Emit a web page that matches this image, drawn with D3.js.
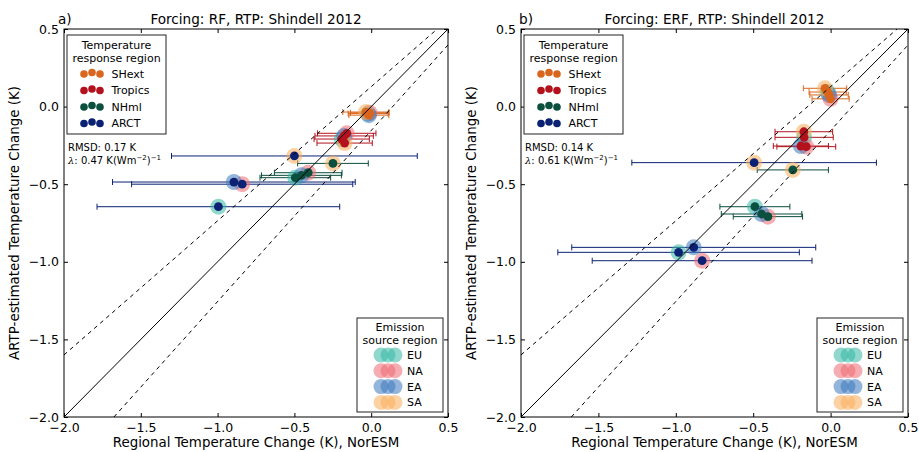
<!DOCTYPE html>
<html>
<head>
<meta charset="utf-8">
<script src="https://cdn.jsdelivr.net/npm/d3@7"></script>
<style>
  body { margin: 0; background: #fff; }
  svg { font-family: "DejaVu Sans", sans-serif; }
</style>
</head>
<body>
<div id="chart"></div>
<script>
// regions the temperature responds in, and where the emissions come from
const regions = ["SHext", "Tropics", "NHml", "ARCT"];
const sources = ["EU", "NA", "EA", "SA"];
const regionColors = ["#d9661c", "#b3121d", "#0b4f3e", "#0b2274"];
const sourceColors = ["#34b8a4", "#ef6a73", "#3a79bd", "#f9ad5a"];

// rows follow regions, columns follow sources
// panel a) Forcing: RF
const rfX = [
  [-0.020, -0.010, -0.015, -0.035],
  [-0.192, -0.159, -0.176, -0.173],
  [-0.494, -0.410, -0.454, -0.249],
  [-0.995, -0.840, -0.894, -0.500]
];
const rfY = [
  [-0.045, -0.040, -0.055, -0.035],
  [-0.209, -0.172, -0.189, -0.235],
  [-0.458, -0.426, -0.443, -0.366],
  [-0.645, -0.500, -0.486, -0.318]
];
const rfErr = [
  [0.13, 0.125, 0.13, 0.15],
  [0.18, 0.19, 0.19, 0.18],
  [0.23, 0.22, 0.26, 0.23],
  [0.79, 0.72, 0.79, 0.80]
];

// panel b) Forcing: ERF
const erfX = [
  [-0.019, 0.000, -0.010, -0.036],
  [-0.171, -0.157, -0.192, -0.173],
  [-0.489, -0.405, -0.446, -0.244],
  [-0.982, -0.830, -0.884, -0.494]
];
const erfY = [
  [0.094, 0.050, 0.075, 0.118],
  [-0.198, -0.258, -0.254, -0.162],
  [-0.645, -0.709, -0.692, -0.408],
  [-0.939, -0.993, -0.907, -0.361]
];
const erfErr = [
  [0.12, 0.12, 0.124, 0.14],
  [0.188, 0.19, 0.178, 0.186],
  [0.226, 0.224, 0.26, 0.23],
  [0.78, 0.71, 0.788, 0.79]
];

const ticks = [-2.0, -1.5, -1.0, -0.5, 0.0, 0.5];
// one-to-one line and the two dashed bounds, as end points in data units
const refLines = [
  { x1: -2.0, y1: -2.0, x2: 0.5, y2: 0.5, dash: null },
  { x1: -2.0, y1: -1.6, x2: 0.43, y2: 0.5, dash: "4,4" },
  { x1: -1.675, y1: -2.0, x2: 0.5, y2: 0.397, dash: "4,4" }
];

const panels = [
  { tag: "a)", title: "Forcing: RF, RTP: Shindell 2012", xs: rfX, ys: rfY, errs: rfErr,
    rmsd: "RMSD: 0.17 K", lambda: "0.47", left: 64, right: 448, tagX: 58 },
  { tag: "b)", title: "Forcing: ERF, RTP: Shindell 2012", xs: erfX, ys: erfY, errs: erfErr,
    rmsd: "RMSD: 0.14 K", lambda: "0.61", left: 521, right: 908, tagX: 519 }
];

const width = 919, height = 452;
const plotTop = 29, plotBottom = 417;

const svg = d3.select("#chart").append("svg")
  .attr("width", width)
  .attr("height", height);

const fmt = d3.format(".1f");

panels.forEach((p, pi) => {
  const x = d3.scaleLinear().domain([-2, 0.5]).range([p.left, p.right]);
  const y = d3.scaleLinear().domain([-2, 0.5]).range([plotBottom, plotTop]);
  const g = svg.append("g");

  const clipId = "clip" + pi;
  g.append("clipPath").attr("id", clipId)
    .append("rect")
    .attr("x", p.left).attr("y", plotTop)
    .attr("width", p.right - p.left).attr("height", plotBottom - plotTop);

  const plot = g.append("g").attr("clip-path", `url(#${clipId})`);

  // flatten the grid into points
  const pts = [];
  regions.forEach((r, ri) => {
    sources.forEach((s, si) => {
      pts.push({ ri, si, x: p.xs[ri][si], y: p.ys[ri][si], e: p.errs[ri][si] });
    });
  });

  // error bars
  const eb = plot.selectAll("g.eb").data(pts).enter().append("g")
    .attr("stroke", d => regionColors[d.ri])
    .attr("stroke-width", 1);
  eb.append("line")
    .attr("x1", d => x(d.x - d.e)).attr("x2", d => x(d.x + d.e))
    .attr("y1", d => y(d.y)).attr("y2", d => y(d.y));
  eb.append("line")
    .attr("x1", d => x(d.x - d.e)).attr("x2", d => x(d.x - d.e))
    .attr("y1", d => y(d.y) - 3).attr("y2", d => y(d.y) + 3);
  eb.append("line")
    .attr("x1", d => x(d.x + d.e)).attr("x2", d => x(d.x + d.e))
    .attr("y1", d => y(d.y) - 3).attr("y2", d => y(d.y) + 3);

  // source halos, then response dots
  plot.selectAll("circle.halo").data(pts).enter().append("circle")
    .attr("cx", d => x(d.x)).attr("cy", d => y(d.y))
    .attr("r", 8)
    .attr("fill", d => sourceColors[d.si])
    .attr("fill-opacity", 0.55);
  plot.selectAll("circle.dot").data(pts).enter().append("circle")
    .attr("cx", d => x(d.x)).attr("cy", d => y(d.y))
    .attr("r", 4.4)
    .attr("fill", d => regionColors[d.ri]);

  // reference lines on top
  plot.selectAll("line.ref").data(refLines).enter().append("line")
    .attr("x1", d => x(d.x1)).attr("y1", d => y(d.y1))
    .attr("x2", d => x(d.x2)).attr("y2", d => y(d.y2))
    .attr("stroke", "#000")
    .attr("stroke-width", 1)
    .attr("stroke-dasharray", d => d.dash);

  // axes with inward ticks on all four sides
  const tl = 4;
  g.append("g").attr("transform", `translate(0,${plotBottom})`)
    .call(d3.axisBottom(x).tickValues(ticks).tickFormat(fmt).tickSize(-tl).tickPadding(6))
    .call(a => a.select(".domain").remove());
  g.append("g").attr("transform", `translate(0,${plotTop})`)
    .call(d3.axisTop(x).tickValues(ticks).tickFormat("").tickSize(-tl))
    .call(a => a.select(".domain").remove());
  g.append("g").attr("transform", `translate(${p.left},0)`)
    .call(d3.axisLeft(y).tickValues(ticks).tickFormat(fmt).tickSize(-tl).tickPadding(5))
    .call(a => a.select(".domain").remove());
  g.append("g").attr("transform", `translate(${p.right},0)`)
    .call(d3.axisRight(y).tickValues(ticks).tickFormat("").tickSize(-tl))
    .call(a => a.select(".domain").remove());
  g.selectAll(".tick text").attr("font-size", 12.5).attr("fill", "#000")
    .attr("font-family", "DejaVu Sans");
  g.selectAll(".tick line").attr("stroke", "#000");

  g.append("rect")
    .attr("x", p.left).attr("y", plotTop)
    .attr("width", p.right - p.left).attr("height", plotBottom - plotTop)
    .attr("fill", "none").attr("stroke", "#000").attr("stroke-width", 1);

  // titles and labels
  const cx = (p.left + p.right) / 2;
  g.append("text").attr("x", cx).attr("y", 24)
    .attr("text-anchor", "middle").attr("font-size", 13.6).text(p.title);
  g.append("text").attr("x", p.tagX).attr("y", 24)
    .attr("font-size", 13.6).text(p.tag);
  g.append("text").attr("x", cx).attr("y", 446.5)
    .attr("text-anchor", "middle").attr("font-size", 13.4)
    .text("Regional Temperature Change (K), NorESM");
  g.append("text")
    .attr("transform", `translate(${p.left - 45},${(plotTop + plotBottom) / 2}) rotate(-90)`)
    .attr("text-anchor", "middle").attr("font-size", 13.4)
    .text("ARTP-estimated Temperature Change (K)");

  // stats text
  g.append("text").attr("x", p.left + 4).attr("y", 150.5)
    .attr("font-size", 10).text(p.rmsd);
  const lt = g.append("text").attr("x", p.left + 4).attr("y", 164).attr("font-size", 10);
  lt.append("tspan").attr("font-style", "italic").attr("font-family", "DejaVu Serif").text("λ");
  lt.append("tspan").text(": " + p.lambda + " K(Wm");
  lt.append("tspan").attr("dy", -4).attr("font-size", 7).text("−2");
  lt.append("tspan").attr("dy", 4).text(")");
  lt.append("tspan").attr("dy", -4).attr("font-size", 7).text("−1");

  // response region legend
  const lg = g.append("g").attr("transform", `translate(${p.left + 3},35)`);
  lg.append("rect").attr("width", 99).attr("height", 99)
    .attr("fill", "#fff").attr("stroke", "#222").attr("stroke-width", 1);
  lg.append("text").attr("x", 49.5).attr("y", 14).attr("text-anchor", "middle")
    .attr("font-size", 11).text("Temperature");
  lg.append("text").attr("x", 49.5).attr("y", 26.5).attr("text-anchor", "middle")
    .attr("font-size", 11).text("response region");
  regions.forEach((r, ri) => {
    const yy = 38.5 + ri * 16.5;
    [-8, 0, 8].forEach((dx, k) => {
      lg.append("circle").attr("cx", 25 + dx).attr("cy", yy + (k === 1 ? -1 : 0.5))
        .attr("r", 3.8).attr("fill", regionColors[ri]);
    });
    lg.append("text").attr("x", 44.5).attr("y", yy + 4)
      .attr("font-size", 11).text(r);
  });

  // emission source legend
  const sg = g.append("g").attr("transform", `translate(${p.right - 91},318)`);
  sg.append("rect").attr("width", 86).attr("height", 94)
    .attr("fill", "#fff").attr("stroke", "#222").attr("stroke-width", 1);
  sg.append("text").attr("x", 43).attr("y", 13).attr("text-anchor", "middle")
    .attr("font-size", 11).text("Emission");
  sg.append("text").attr("x", 43).attr("y", 25.5).attr("text-anchor", "middle")
    .attr("font-size", 11).text("source region");
  sources.forEach((s, si) => {
    const yy = 37 + si * 15.8;
    [-7, 0, 7].forEach(dx => {
      sg.append("circle").attr("cx", 31 + dx).attr("cy", yy)
        .attr("r", 7.5).attr("fill", sourceColors[si]).attr("fill-opacity", 0.55);
    });
    sg.append("text").attr("x", 50).attr("y", yy + 4)
      .attr("font-size", 11).text(s);
  });
});
</script>
</body>
</html>
